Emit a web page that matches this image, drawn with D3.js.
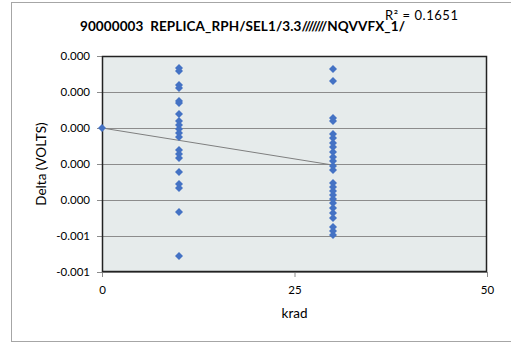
<!DOCTYPE html>
<html><head><meta charset="utf-8">
<script src="https://cdn.jsdelivr.net/npm/d3@7"></script>
<style>body{margin:0;background:#fff;} svg{display:block;} text{white-space:pre;}</style>
</head><body>
<script>
const titleText = "90000003  REPLICA_RPH/SEL1/3.3///////NQVVFX_1/";
const r2Text = "R² = 0.1651";
const xLabel = "krad";
const yLabel = "Delta (VOLTS)";
const xTicks = [0, 25, 50];
const yTicks = [0.0004, 0.0002, 0, -0.0002, -0.0004, -0.0006, -0.0008];
const yTickLabels = ["0.000", "0.000", "0.000", "0.000", "0.000", "-0.001", "-0.001"];
const xs0 = [0];
const ys0 = [0];
const ys10 = [0.000333, 0.000317, 0.000239, 0.000222, 0.000150, 0.000139, 0.000078, 0.000039, 0.000017,
  -0.000006, -0.000028, -0.000050, -0.000122, -0.000144, -0.000167, -0.000244, -0.000311, -0.000333,
  -0.000467, -0.000711];
const ys30 = [0.000328, 0.000261, 0.000056, 0.000039, -0.000033, -0.000056, -0.000083, -0.000106,
  -0.000133, -0.000161, -0.000183, -0.000211, -0.000233, -0.000306, -0.000328, -0.000350, -0.000372,
  -0.000394, -0.000417, -0.000444, -0.000472, -0.000500, -0.000550, -0.000572, -0.000594];
const trendX = [0, 30];
const trendY = [0, -0.000206];

const points = [];
xs0.forEach((x,i)=>points.push([x, ys0[i]]));
ys10.forEach(y=>points.push([10, y]));
ys30.forEach(y=>points.push([30, y]));

const W = 511, H = 343;
const svg = d3.select("body").append("svg").attr("width", W).attr("height", H);
const font = "Lato, 'Open Sans', sans-serif";

svg.append("rect").attr("x", 11.5).attr("y", 2.5).attr("width", 510).attr("height", 339)
  .attr("fill", "#fff").attr("stroke", "#a6a6a6");

const L = 102, R = 487, T = 56, B = 272;
const x = d3.scaleLinear().domain([0, 50]).range([L, R]);
const y = d3.scaleLinear().domain([-0.0008, 0.0004]).range([B, T]);

svg.append("rect").attr("x", L).attr("y", T).attr("width", R - L).attr("height", B - T)
  .attr("fill", "#e6ebeb");

// gridlines
svg.append("g").selectAll("line").data(yTicks).join("line")
  .attr("x1", L).attr("x2", R)
  .attr("y1", d => Math.round(y(d)) + 0.5).attr("y2", d => Math.round(y(d)) + 0.5)
  .attr("stroke", "#8c8c8c").attr("stroke-width", 1);

// axes
const yAxis = d3.axisLeft(y).tickValues(yTicks).tickSize(5).tickPadding(7)
  .tickFormat((d,i) => yTickLabels[i]);
const gy = svg.append("g").attr("transform", `translate(${L},0)`).call(yAxis);
gy.select(".domain").remove();
gy.selectAll("line").attr("stroke", "#8c8c8c");
gy.selectAll("text").attr("font-family", font).attr("font-size", 11.5).attr("fill", "#000");

const xAxis = d3.axisBottom(x).tickValues(xTicks).tickSize(5).tickPadding(9).tickFormat(d3.format("d"));
const gx = svg.append("g").attr("transform", `translate(0,${B})`).call(xAxis);
gx.select(".domain").remove();
gx.selectAll("line").attr("stroke", "#8c8c8c");
gx.selectAll("text").attr("font-family", font).attr("font-size", 11.5).attr("fill", "#000");

// plot border
svg.append("rect").attr("x", L + 0.5).attr("y", T + 0.5).attr("width", R - L - 1).attr("height", B - T - 1)
  .attr("fill", "none").attr("stroke", "#222").attr("stroke-width", 1.5);

// trendline
svg.append("line")
  .attr("x1", x(trendX[0])).attr("y1", y(trendY[0]))
  .attr("x2", x(trendX[1])).attr("y2", y(trendY[1]))
  .attr("stroke", "#7f7f7f").attr("stroke-width", 1);

// markers (Excel-style diamond: square rotated 45deg)
const sym = d3.symbol().type(d3.symbolSquare).size(32);
svg.append("g").selectAll("path").data(points).join("path")
  .attr("transform", d => `translate(${x(d[0])},${y(d[1])}) rotate(45)`)
  .attr("d", sym).attr("fill", "#4472c4");

// texts
svg.append("text").attr("x", 80).attr("y", 31).attr("font-family", font)
  .attr("font-weight", "bold").attr("font-size", 13.5)
  .attr("textLength", 325).attr("lengthAdjust", "spacing").text(titleText);
svg.append("text").attr("x", 385).attr("y", 20).attr("font-family", font)
  .attr("font-size", 13).attr("textLength", 73).attr("lengthAdjust", "spacing").text(r2Text);
svg.append("text").attr("x", (L + R) / 2).attr("y", 318).attr("text-anchor", "middle")
  .attr("font-family", font).attr("font-size", 13.5).text(xLabel);
svg.append("text").attr("transform", `translate(46,${(T + B) / 2}) rotate(-90)`)
  .attr("text-anchor", "middle").attr("font-family", font).attr("font-size", 13.5).text(yLabel);
</script>
</body></html>
